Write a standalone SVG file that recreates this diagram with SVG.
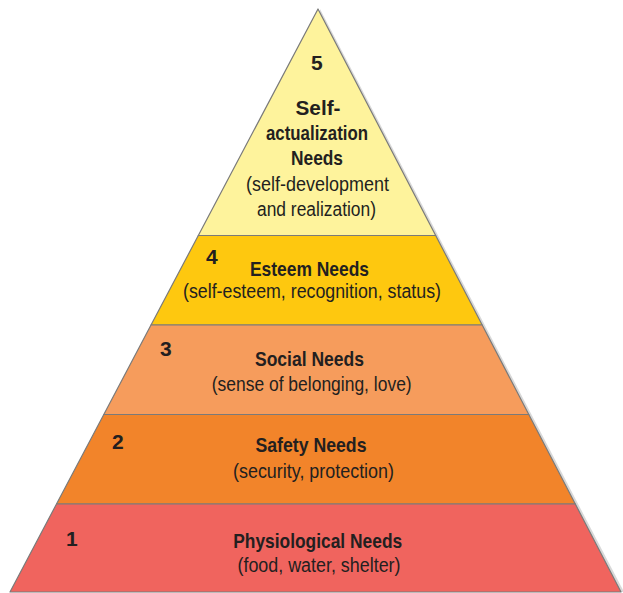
<svg xmlns="http://www.w3.org/2000/svg" width="623" height="593" viewBox="0 0 623 593">
<style>
.band{stroke:#7a7a7a;stroke-width:1.2;stroke-linejoin:round}
.num{font-family:"Liberation Sans",Arial,sans-serif;font-weight:bold;font-size:21px;fill:#231f20}
.h{font-family:"Liberation Sans",Arial,sans-serif;font-weight:bold;font-size:21px;fill:#231f20;text-anchor:middle}
.s{font-family:"Liberation Sans",Arial,sans-serif;font-size:20px;fill:#231f20;text-anchor:middle}
</style>
<rect width="623" height="593" fill="#ffffff"/>
<polygon points="320,9 624,592 318,592" fill="#c8c8c8" opacity="0.7"/>
<g id="level5">
<polygon class="band" points="318,9 435.7,235.5 198.3,235.5" fill="#fef39c"/>
<text class="num" x="311" y="70">5</text>
<text class="h" x="318" y="115" textLength="45" lengthAdjust="spacingAndGlyphs">Self-</text>
<text class="h" x="317" y="140" textLength="102" lengthAdjust="spacingAndGlyphs">actualization</text>
<text class="h" x="317" y="165" textLength="52" lengthAdjust="spacingAndGlyphs">Needs</text>
<text class="s" x="317.5" y="191" textLength="143" lengthAdjust="spacingAndGlyphs">(self-development</text>
<text class="s" x="316.5" y="216" textLength="119" lengthAdjust="spacingAndGlyphs">and realization)</text>
</g>
<g id="level4">
<polygon class="band" points="198.3,235.5 435.7,235.5 482.2,325 151,325" fill="#fec80f"/>
<text class="num" x="206" y="264">4</text>
<text class="h" x="309.5" y="276" textLength="119" lengthAdjust="spacingAndGlyphs">Esteem Needs</text>
<text class="s" x="312" y="298" textLength="258" lengthAdjust="spacingAndGlyphs">(self-esteem, recognition, status)</text>
</g>
<g id="level3">
<polygon class="band" points="151,325 482.2,325 528.8,414.5 103.8,414.5" fill="#f69c5c"/>
<text class="num" x="160" y="356">3</text>
<text class="h" x="309.5" y="366" textLength="109" lengthAdjust="spacingAndGlyphs">Social Needs</text>
<text class="s" x="311.7" y="391" textLength="200" lengthAdjust="spacingAndGlyphs">(sense of belonging, love)</text>
</g>
<g id="level2">
<polygon class="band" points="103.8,414.5 528.8,414.5 575.3,504 56.5,504" fill="#f2842a"/>
<text class="num" x="112" y="449">2</text>
<text class="h" x="311" y="452" textLength="111" lengthAdjust="spacingAndGlyphs">Safety Needs</text>
<text class="s" x="313.5" y="478" textLength="161" lengthAdjust="spacingAndGlyphs">(security, protection)</text>
</g>
<g id="level1">
<polygon class="band" points="56.5,504 575.3,504 621,592 10,592" fill="#f0645e"/>
<text class="num" x="66" y="546">1</text>
<text class="h" x="317.7" y="548" textLength="169" lengthAdjust="spacingAndGlyphs">Physiological Needs</text>
<text class="s" x="319" y="572" textLength="163" lengthAdjust="spacingAndGlyphs">(food, water, shelter)</text>
</g>
<g id="connectors"/>
</svg>
